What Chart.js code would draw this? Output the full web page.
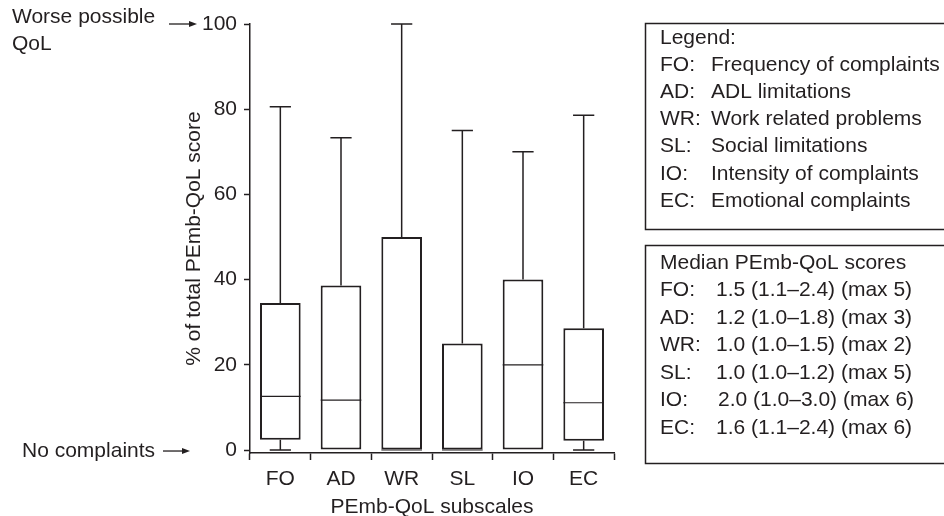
<!DOCTYPE html>
<html><head><meta charset="utf-8">
<script src="https://cdn.jsdelivr.net/npm/chart.js@4"></script>
<style>html,body{margin:0;padding:0;background:#fff}#wrap{width:944px;height:516px;position:relative}</style>
</head><body><div id="wrap"><canvas id="c"></canvas></div>
<script>
const categories = ['FO','AD','WR','SL','IO','EC'];
const whiskerMin = [0, 0, 0, 0, 0, 0];
const q1 = [2.4, 0, 0, 0, 0, 2.2];
const median = [12.6, 11.7, 0, 0, 20, 11.1];
const q3 = [34.5, 38.6, 50, 25, 40, 28.6];
const whiskerMax = [80.6, 73.3, 100, 75, 70, 78.6];
const yTicks = [0, 20, 40, 60, 80, 100];
const legendTitle = 'Legend:';
const legendCodes = ['FO:', 'AD:', 'WR:', 'SL:', 'IO:', 'EC:'];
const legendNames = ['Frequency of complaints', 'ADL limitations', 'Work related problems', 'Social limitations', 'Intensity of complaints', 'Emotional complaints'];
const medianTitle = 'Median PEmb-QoL scores';
const medianTexts = ['1.5 (1.1–2.4) (max 5)', '1.2 (1.0–1.8) (max 3)', '1.0 (1.0–1.5) (max 2)', '1.0 (1.0–1.2) (max 5)', '2.0 (1.0–3.0) (max 6)', '1.6 (1.1–2.4) (max 6)'];
const topNote = ['Worse possible', 'QoL'];
const bottomNote = 'No complaints';

const INK = '#231f20';
const FONT = '"Liberation Sans", Arial, Helvetica, sans-serif';
const FS = 21;

const boxPlugin = {
  id: 'boxExtras',
  afterDatasetsDraw(chart) {
    const ctx = chart.ctx, x = chart.scales.x, y = chart.scales.y;
    const cw = x.getPixelForValue(1) - x.getPixelForValue(0);
    const meta = chart.getDatasetMeta(0);
    ctx.save();
    ctx.strokeStyle = INK;
    categories.forEach((c, i) => {
      const cx = x.getPixelForValue(i);
      const bar = meta.data[i];
      const half = bar.width / 2;
      const capHalf = cw * 0.175;
      ctx.lineWidth = 1.5;
      ctx.beginPath();
      ctx.moveTo(cx, y.getPixelForValue(q3[i]));
      ctx.lineTo(cx, y.getPixelForValue(whiskerMax[i]));
      ctx.moveTo(cx - capHalf, y.getPixelForValue(whiskerMax[i]));
      ctx.lineTo(cx + capHalf, y.getPixelForValue(whiskerMax[i]));
      ctx.stroke();
      if (q1[i] > whiskerMin[i]) {
        ctx.beginPath();
        ctx.moveTo(cx, y.getPixelForValue(q1[i]));
        ctx.lineTo(cx, y.getPixelForValue(whiskerMin[i]));
        ctx.moveTo(cx - capHalf, y.getPixelForValue(whiskerMin[i]));
        ctx.lineTo(cx + capHalf, y.getPixelForValue(whiskerMin[i]));
        ctx.stroke();
      }
      ctx.lineWidth = 1.2;
      ctx.beginPath();
      ctx.moveTo(cx - half, y.getPixelForValue(median[i]));
      ctx.lineTo(cx + half, y.getPixelForValue(median[i]));
      ctx.stroke();
    });
    ctx.restore();
  },
  afterDraw(chart) {
    const ctx = chart.ctx, y = chart.scales.y;
    ctx.save();
    ctx.fillStyle = INK;
    ctx.strokeStyle = INK;
    ctx.font = FS + 'px ' + FONT;
    ctx.textBaseline = 'middle';
    ctx.textAlign = 'left';
    const yTop = y.getPixelForValue(100), yZero = y.getPixelForValue(0);
    ctx.fillText(topNote[0], 12, yTop - 7);
    ctx.fillText(topNote[1], 12, yTop + 20);
    ctx.fillText(bottomNote, 22, yZero + 1);
    const arrow = (x0, x1, yy) => {
      ctx.lineWidth = 1.3;
      ctx.beginPath(); ctx.moveTo(x0, yy); ctx.lineTo(x1 - 6, yy); ctx.stroke();
      ctx.beginPath(); ctx.moveTo(x1, yy); ctx.lineTo(x1 - 8, yy - 3); ctx.lineTo(x1 - 8, yy + 3); ctx.closePath(); ctx.fill();
    };
    arrow(169, 197, yTop);
    arrow(163, 190, yZero + 1);
    ctx.lineWidth = 1.5;
    ctx.strokeRect(645.5, 23.5, 400, 206);
    ctx.strokeRect(645.5, 245.5, 400, 218);
    const lx = 660, nameX = 711, valX = 716;
    ctx.fillText(legendTitle, lx, 38);
    legendCodes.forEach((code, i) => {
      const yy = 65 + i * 27.2;
      ctx.fillText(code, lx, yy);
      ctx.fillText(legendNames[i], nameX, yy);
    });
    ctx.fillText(medianTitle, lx, 263);
    legendCodes.forEach((code, i) => {
      const yy = 290.5 + i * 27.5;
      ctx.fillText(code, lx, yy);
      ctx.fillText(medianTexts[i], valX + (code === 'IO:' ? 2 : 0), yy);
    });
    ctx.restore();
  }
};

new Chart(document.getElementById('c'), {
  type: 'bar',
  data: {
    labels: categories,
    datasets: [{
      data: categories.map((c, i) => [q1[i], q3[i]]),
      backgroundColor: '#ffffff',
      borderColor: INK,
      borderWidth: 2,
      borderSkipped: false,
      barPercentage: 0.67,
      categoryPercentage: 1
    }]
  },
  options: {
    responsive: true,
    maintainAspectRatio: false,
    animation: false,
    layout: { padding: { left: 175, right: 330, top: 24, bottom: 0 } },
    plugins: { legend: { display: false }, tooltip: { enabled: false } },
    scales: {
      x: {
        grid: { display: true, drawOnChartArea: false, drawTicks: true, tickLength: 7, tickColor: INK, tickWidth: 1.5, color: INK },
        border: { display: true, color: INK, width: 1.5 },
        ticks: { color: INK, font: { size: FS, family: FONT }, padding: 7 },
        title: { display: true, text: 'PEmb-QoL subscales', color: INK, font: { size: FS, family: FONT, lineHeight: 0.8 }, padding: { top: 0, bottom: 0 } },
        afterFit(s) { s.height = 63; }
      },
      y: {
        min: -0.7, max: 100,
        afterBuildTicks(s) { s.ticks = yTicks.map(v => ({ value: v })); },
        grid: { display: true, drawOnChartArea: false, drawTicks: true, tickLength: 6, tickColor: INK, tickWidth: 1.5, color: INK },
        border: { display: true, color: INK, width: 1.5 },
        ticks: { color: INK, font: { size: FS, family: FONT }, padding: 7 },
        title: { display: true, text: '% of total PEmb-QoL score', color: INK, font: { size: FS, family: FONT, lineHeight: 1.2 }, padding: { top: 7, bottom: 0 } },
        afterFit(s) { s.width = 75; }
      }
    }
  },
  plugins: [boxPlugin]
});
</script></body></html>
